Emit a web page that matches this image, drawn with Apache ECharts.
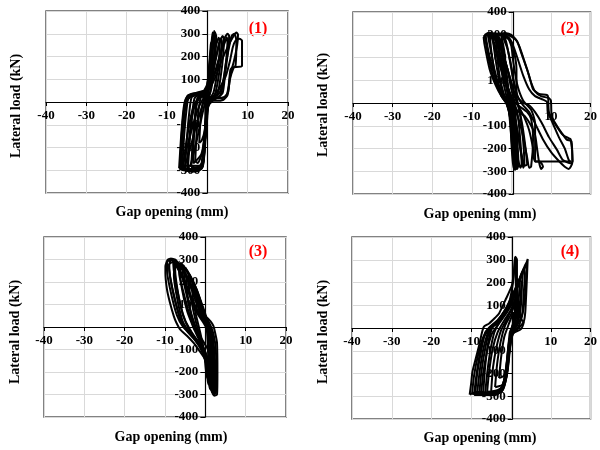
<!DOCTYPE html>
<html>
<head>
<meta charset="utf-8">
<script src="https://cdn.jsdelivr.net/npm/echarts@6/dist/echarts.min.js"></script>
<style>
  html, body { margin: 0; padding: 0; background: #fff; }
  #chart { width: 600px; height: 450px; }
</style>
</head>
<body>
<div id="chart"></div>
<script>
// Axis ranges and ticks shared by the four panels
const xTicks = [-40, -30, -20, -10, 0, 10, 20];
const yTicks = [-400, -300, -200, -100, 0, 100, 200, 300, 400];
const panelTags = ['(1)', '(2)', '(3)', '(4)'];
const xTitle = 'Gap opening (mm)';
const yTitle = 'Lateral load (kN)';

// Hysteresis loops, [gap opening (mm), lateral load (kN)]
const gap1Loops = [
  [[-2,-180],[-1.7,-80],[-1.2,-10],[-0.5,30],[0,70],[0.4,150],[0.8,240],[0.9,262],[1.0,230],[0.6,130],[0.2,40],[-0.2,-40],[-0.6,-120],[-1.4,-170],[-2,-180]],
  [[-3,-260],[-2.7,-150],[-2.2,-40],[-1.6,20],[-0.6,40],[0,75],[0.5,160],[1,250],[1.3,305],[1.5,292],[1.3,200],[0.8,110],[0.3,40],[-0.2,-20],[-0.5,-120],[-1.2,-220],[-2.4,-268],[-3,-260]],
  [[-4,-285],[-3.6,-170],[-3,-50],[-2.4,20],[-1.2,40],[0,80],[0.7,180],[1.3,270],[1.7,312],[1.9,300],[1.7,210],[1.2,120],[0.8,50],[0.2,0],[-0.2,-40],[-0.6,-170],[-1.3,-270],[-3,-292],[-4,-285]],
  [[-4.8,-292],[-4.4,-180],[-3.8,-60],[-3.2,15],[-2,35],[-0.5,50],[0.5,90],[1.3,170],[2.2,250],[2.8,282],[3.1,268],[2.9,190],[2.3,110],[1.5,40],[0.5,10],[0,-20],[-0.5,-150],[-1.2,-260],[-2,-295],[-4,-300],[-4.8,-292]],
  [[-5.5,-290],[-5.1,-170],[-4.5,-50],[-3.9,20],[-2.5,35],[-1,45],[0,60],[1,100],[2,180],[3,260],[3.8,290],[4.1,278],[3.9,200],[3.3,110],[2.6,40],[1.5,15],[0.5,0],[0,-30],[-0.6,-170],[-1.5,-282],[-2.5,-302],[-4.5,-300],[-5.5,-290]],
  [[-6.2,-290],[-5.8,-160],[-5.2,-40],[-4.6,25],[-3,38],[-1,40],[0,50],[1.5,110],[3,200],[4.3,282],[5,300],[5.4,290],[5.1,220],[4.4,120],[3.8,40],[2.5,20],[1,10],[0.3,-10],[-0.3,-80],[-1,-220],[-1.8,-292],[-3,-305],[-5.5,-300],[-6.2,-290]],
  [[-6.8,-290],[-6.3,-130],[-5.7,-20],[-5,25],[-4,35],[-2,42],[-0.5,50],[0.5,60],[2,110],[3.5,180],[5,240],[6.5,290],[7.2,305],[7.6,296],[7.4,250],[6.6,180],[5.7,120],[5.1,40],[4,20],[2,15],[0.5,-10],[-0.3,-60],[-0.8,-200],[-1.5,-290],[-3,-300],[-6,-300],[-6.8,-290]],
  [[-6.5,-285],[-6.1,-140],[-5.5,-10],[-4.8,28],[-3,38],[-1,48],[0,30],[1,20],[3,18],[4.5,22],[5.2,60],[5.7,140],[6.2,152],[8.6,158],[8.6,270],[8,278],[7,270],[6.3,240],[5.6,180],[4.5,110],[3,60],[1.5,25],[0.5,0],[-0.2,-50],[-0.6,-180],[-1.2,-280],[-2.5,-300],[-5.5,-295],[-6.5,-285]],
  [[-7,-292],[-6.5,-150],[-5.9,-30],[-5.3,15],[-4,30],[-2,35],[0,10],[2,5],[4,10],[5,30],[5.6,100],[6.5,150],[7,160],[7.2,270],[6.7,300],[6,290],[5.5,250],[4.6,170],[4,100],[3,40],[1,10],[0,-10],[-0.5,-100],[-1,-250],[-2,-300],[-4,-305],[-7,-292]],
  [[-5.8,-295],[-4.5,-220],[-3,-120],[-1.5,-30],[-0.5,20],[0,40],[0.3,10],[-0.2,-60],[-0.7,-200],[-1.2,-285],[-3,-300],[-5.8,-295]],
  [[-6.5,-290],[-5.5,-230],[-4,-130],[-2.5,-40],[-1,15],[0,30],[0.2,0],[-0.3,-100],[-0.9,-250],[-1.5,-295],[-4,-300],[-6.5,-290]],
  [[-4.2,-280],[-3,-200],[-1.8,-100],[-0.8,-20],[0,20],[0.1,-30],[-0.4,-150],[-1,-260],[-2.5,-290],[-4.2,-280]],
  [[-3.5,-270],[-3.3,-150],[-2.8,-30],[-2,20],[-0.5,30],[-0.1,-20],[-0.5,-130],[-1.5,-230],[-3.5,-270]],
  [[-5,-300],[-4.7,-200],[-4,-90],[-3,-10],[-1.5,25],[-0.3,35],[0,0],[-0.4,-110],[-0.9,-240],[-1.8,-298],[-5,-300]],
  [[-6,-295],[-5.4,-200],[-4.6,-110],[-3.6,-30],[-2.2,20],[-0.8,35],[-0.2,-30],[-0.6,-170],[-1.3,-290],[-6,-295]],
  [[-6.7,-280],[-6.4,-200],[-6,-100],[-5.2,0],[-4,25],[-2,30],[-0.5,20],[-0.5,-80],[-1,-200],[-1.6,-280],[-6.7,-280]],
  [[-2,30],[0,60],[0.8,150],[1.4,250],[1.9,305],[2.2,290],[2,220],[1.6,140],[1,60],[0,20],[-2,30]],
  [[-1,35],[0.5,80],[1.8,170],[2.8,250],[3.4,280],[3.6,265],[3.3,180],[2.6,90],[1.8,30],[0.5,15],[-1,35]],
  [[-3,35],[0,55],[2,130],[3.5,220],[4.5,270],[4.8,285],[5,270],[4.7,190],[4,90],[3.2,30],[1.5,10],[-3,35]]
];

const gap2Loops = [
  [[-2.5,295],[-2.2,220],[-1.5,100],[-0.8,20],[-0.3,-60],[0,-170],[0.5,-285],[0.8,-270],[0.6,-160],[0.2,-60],[-0.4,10],[-1,100],[-1.8,230],[-2.5,295]],
  [[-4,300],[-3.6,210],[-2.8,100],[-1.6,20],[-0.6,-40],[0,-150],[0.5,-250],[0.9,-295],[1.2,-280],[1,-170],[0.5,-60],[-0.2,10],[-1,80],[-2,180],[-3,280],[-4,300]],
  [[-5.5,305],[-5,220],[-4,110],[-2.5,30],[-1,-10],[0,-100],[0.7,-220],[1.5,-290],[1.8,-270],[1.5,-160],[1,-50],[0.2,20],[-0.8,60],[-2,130],[-3.5,250],[-4.8,305],[-5.5,305]],
  [[-6.6,300],[-6,220],[-4.8,130],[-3.5,70],[-2,20],[-1,0],[0,-60],[1,-160],[1.6,-240],[2.3,-285],[2.6,-270],[2.2,-150],[1.5,-40],[0.5,10],[-0.5,50],[-1.8,120],[-3,220],[-4,290],[-5.5,310],[-6.6,300]],
  [[-7,290],[-6.8,260],[-5.5,150],[-4,80],[-2.5,30],[-1,-5],[0.5,-40],[1.5,-120],[2.5,-220],[3.5,-275],[4,-270],[3.6,-200],[2.8,-100],[2,-30],[1.3,20],[1.3,150],[0.5,240],[-0.5,285],[-2,300],[-4,305],[-6,305],[-7,290]],
  [[-6.5,295],[-5.5,200],[-4,110],[-2.5,40],[-1,0],[0.5,-20],[2,-40],[3.5,-60],[5,-100],[6,-140],[6.5,-200],[7,-260],[7.5,-290],[8,-280],[7.2,-257],[6,-257],[6,-88],[5,-30],[3,10],[1.5,80],[0.5,180],[0,250],[-1,290],[-3,300],[-5,305],[-6.5,295]],
  [[-2,310],[0,300],[1.5,270],[2.5,220],[4,146],[5,90],[6,51],[7.5,30],[9.4,22],[10,10],[10.2,-59],[11.5,-100],[12.7,-131],[14,-161],[15.2,-168],[15.4,-263],[14.5,-290],[13.5,-280],[12,-255],[10,-215],[8,-160],[6,-90],[4.5,-40],[3,-10],[1.8,20],[0.8,80],[0,160],[-1,240],[-2,290],[-2,310]],
  [[-3,305],[-1,300],[1,280],[2,250],[3,200],[4.5,120],[5.5,60],[7,40],[9,35],[9.3,25],[9.5,-40],[11,-90],[13,-140],[14.5,-155],[15,-160],[15.5,-255],[15,-265],[13,-250],[11.5,-205],[9.5,-150],[7.7,-88],[6,-40],[4.5,-10],[3,0],[1.5,30],[0.5,100],[-0.5,200],[-1.5,280],[-3,305]],
  [[-4,300],[-2,295],[0,270],[1.5,200],[3,120],[4.5,60],[6,30],[8,15],[9,5],[9.2,-40],[10.5,-90],[12,-150],[13.5,-200],[14.5,-250],[15,-257],[6,-257],[5.5,-200],[4.5,-120],[3.2,-60],[2,-20],[1,20],[0,90],[-1.5,180],[-3,260],[-4,300]],
  [[-5,300],[-3,250],[-1,150],[0,60],[1,0],[2.5,-20],[4,-40],[5,-70],[5.5,-150],[5,-280],[4.5,-285],[4,-240],[3,-150],[2,-80],[1,-30],[0,20],[-1.5,100],[-3.5,220],[-5,300]],
  [[-6,305],[-5.3,240],[-4.3,150],[-3,70],[-1.5,10],[-0.3,-50],[0.4,-150],[1,-260],[1.3,-290],[1.5,-260],[1.2,-140],[0.6,-30],[-0.5,30],[-2,110],[-3.5,200],[-5,290],[-6,305]],
  [[-4.8,300],[-4.3,230],[-3.3,120],[-2,40],[-0.8,-20],[0.2,-110],[0.8,-230],[1.2,-280],[1.4,-250],[1,-120],[0.3,-20],[-0.7,40],[-2,150],[-3.5,260],[-4.8,300]],
  [[-3.3,295],[-2.8,200],[-2,90],[-1,10],[-0.2,-80],[0.4,-200],[0.7,-280],[1,-260],[0.7,-140],[0,-30],[-0.8,60],[-1.8,180],[-2.6,270],[-3.3,295]],
  [[-6.8,300],[-6.2,250],[-5,170],[-3.5,90],[-2,40],[-0.5,0],[0.8,-60],[1.8,-150],[2.6,-240],[3,-285],[3.3,-270],[3,-170],[2.3,-60],[1.5,10],[0.5,60],[-1,150],[-2.5,240],[-4,290],[-6.8,300]]
];

const gap3Loops = [
  [[-8.5,305],[-7.5,300],[-6.5,270],[-5,240],[-3.5,190],[-2.1,136],[-1,80],[-0.4,55],[0.5,40],[1.3,25],[2,5],[2.6,-40],[2.9,-71],[3,-200],[2.9,-300],[2.2,-305],[1.7,-290],[1,-240],[0.6,-180],[0,-145],[-1.5,-105],[-2.9,-71],[-4.5,-40],[-6.2,-12],[-7.2,20],[-7.8,47],[-8.8,110],[-9.5,166],[-9.9,240],[-9.9,270],[-9.3,300],[-8.5,305]],
  [[-8,300],[-6.5,280],[-5,230],[-3.5,170],[-2.3,110],[-1.2,60],[0,25],[1,0],[1.8,-40],[2.4,-150],[2.6,-290],[2,-295],[1.2,-250],[0.3,-170],[-0.8,-110],[-2.5,-60],[-4.5,-20],[-6,20],[-7,80],[-8.3,180],[-9,260],[-8.7,295],[-8,300]],
  [[-7,290],[-5.5,260],[-4,200],[-2.5,140],[-1.2,70],[0,20],[1,-20],[1.7,-80],[2.2,-200],[2.3,-285],[1.8,-290],[1,-220],[0,-140],[-1.5,-80],[-3.5,-20],[-5,30],[-6.2,100],[-7.2,200],[-7.5,260],[-7,290]],
  [[-6,285],[-5,260],[-3.5,210],[-2,150],[-0.8,90],[0.3,30],[1.2,-20],[1.6,-100],[1.9,-280],[1.5,-285],[0.8,-200],[0,-130],[-1.5,-60],[-3,0],[-4.5,70],[-5.8,170],[-6.3,250],[-6,285]],
  [[-5,265],[-3.5,220],[-2,160],[-0.8,100],[0.3,40],[1,-20],[1.3,-120],[1.5,-270],[1.1,-275],[0.5,-180],[-0.5,-100],[-2,-20],[-3.5,60],[-4.5,150],[-5.2,230],[-5,265]],
  [[-4,235],[-2.8,190],[-1.5,130],[-0.4,70],[0.5,10],[0.9,-80],[1.1,-250],[0.7,-255],[0.1,-140],[-1,-60],[-2.3,20],[-3.5,120],[-4.2,200],[-4,235]],
  [[-3,200],[-2,160],[-0.8,90],[0.2,20],[0.6,-80],[0.8,-220],[0.4,-225],[-0.3,-110],[-1.2,-30],[-2.4,60],[-3.2,150],[-3,200]],
  [[-9.5,290],[-8.5,300],[-7.5,280],[-6,230],[-4,150],[-2.5,90],[-1,40],[0.5,0],[1.5,-60],[2,-150],[2.4,-270],[2,-280],[1.5,-200],[0.5,-140],[-1,-90],[-3,-40],[-5.5,0],[-7,50],[-8.5,150],[-9.5,250],[-9.5,290]],
  [[-8,295],[-6.5,260],[-5,200],[-3.5,120],[-2,60],[-0.5,20],[1,-30],[1.8,-120],[2.1,-250],[1.7,-255],[1,-180],[0,-120],[-2,-60],[-4,-10],[-5.5,50],[-6.8,150],[-7.8,250],[-8,295]],
  [[-6.5,280],[-4.5,250],[-3,190],[-1.5,110],[0,50],[1.2,10],[2,-30],[2.6,-100],[2.8,-280],[2.3,-290],[1.9,-200],[1.2,-120],[0,-80],[-2,-20],[-4,60],[-5.5,160],[-6.5,240],[-6.5,280]],
  [[-9,280],[-8,290],[-6.8,260],[-5,200],[-3.2,120],[-1.5,60],[0,15],[1.3,-40],[1.9,-130],[2.2,-280],[1.8,-285],[1.2,-190],[0.2,-120],[-1.5,-70],[-4,-25],[-6,30],[-7.5,120],[-8.7,220],[-9,280]],
  [[-7.5,300],[-6,270],[-4.5,220],[-3,160],[-1.6,100],[-0.3,45],[1,-10],[1.7,-60],[2.2,-160],[2.5,-295],[2,-300],[1.5,-220],[0.5,-150],[-1,-95],[-3.5,-35],[-5.5,20],[-6.8,110],[-7.8,230],[-7.5,300]],
  [[-5.5,275],[-4,230],[-2.5,170],[-1,100],[0.3,35],[1.3,-20],[1.9,-100],[2.1,-290],[1.6,-290],[1,-190],[0,-110],[-1.8,-40],[-3.3,40],[-4.6,140],[-5.6,230],[-5.5,275]]
];

const gap4Loops = [
  [[-10.4,-293],[-10,-240],[-9.7,-192],[-8.8,-130],[-8,-75],[-7.3,-20],[-6.8,6],[-5.5,20],[-4,45],[-3,64],[-1.4,123],[0.25,189],[0.8,260],[1.1,313],[1.5,300],[1.5,220],[1.8,120],[2.5,40],[3.2,25],[2.5,-5],[0.5,-25],[-0.2,-75],[-1,-192],[-1.8,-250],[-3,-280],[-5,-290],[-7,-285],[-8.5,-280],[-10.4,-293]],
  [[-9,-290],[-8.5,-200],[-7.5,-100],[-6.5,-20],[-5,10],[-3,40],[-1,90],[1,150],[2.5,220],[3.6,270],[4.2,303],[4.1,260],[4,218],[3.6,72],[3.2,28],[1.9,-1],[0.2,-31],[-0.3,-100],[-0.8,-180],[-1.5,-240],[-2.5,-280],[-4,-292],[-6,-285],[-7.5,-290],[-9,-290]],
  [[-8,-295],[-7.5,-200],[-6.5,-90],[-5.5,-20],[-4,20],[-2,60],[0,120],[1.5,180],[2.5,230],[3,250],[2.8,200],[2.5,100],[1.8,30],[0.5,-10],[-0.5,-60],[-1.2,-170],[-2,-250],[-3.5,-290],[-5.5,-280],[-8,-295]],
  [[-6.5,-290],[-6,-200],[-5.2,-100],[-4.2,-20],[-2.8,30],[-1,80],[0.5,130],[1.8,190],[2.2,200],[2,140],[1.3,50],[0.3,0],[-0.6,-80],[-1.3,-190],[-2.5,-270],[-4.5,-285],[-6.5,-290]],
  [[-5,-280],[-4.5,-170],[-3.6,-80],[-2.5,-10],[-1,40],[0.5,100],[1.5,150],[1.4,90],[0.8,20],[-0.2,-40],[-0.8,-150],[-1.6,-240],[-3,-270],[-5,-280]],
  [[-4,-260],[-3.5,-160],[-2.6,-60],[-1.5,10],[0,60],[1,110],[1,60],[0.3,0],[-0.5,-90],[-1.2,-200],[-2.2,-250],[-4,-260]],
  [[-3,-220],[-2.5,-130],[-1.7,-40],[-0.5,20],[0.6,70],[0.5,20],[-0.2,-50],[-0.8,-150],[-1.8,-210],[-3,-220]],
  [[-7,-290],[-6.5,-170],[-5.7,-60],[-4.5,10],[-2.5,50],[-0.5,110],[0.5,200],[0.9,280],[1,310],[1.3,300],[1.2,200],[1.5,110],[1.8,40],[0.8,0],[-0.2,-60],[-0.9,-190],[-2,-270],[-4,-295],[-7,-290]],
  [[-9.8,-290],[-9.3,-210],[-8.3,-120],[-7,-40],[-5.5,0],[-3.5,30],[-1.5,80],[0.5,150],[2,210],[3.2,260],[3.5,240],[3.2,150],[2.8,60],[1.5,10],[0,-30],[-0.6,-120],[-1.3,-220],[-2.5,-275],[-5,-290],[-7.5,-280],[-9.8,-290]],
  [[-8.5,-285],[-7.8,-180],[-6.8,-80],[-5.5,-10],[-3.5,20],[-1.5,60],[0,100],[1.2,160],[1.2,100],[0.8,30],[-0.3,-20],[-0.9,-130],[-1.7,-230],[-3,-285],[-6,-290],[-8.5,-285]],
  [[-9.3,-295],[-8.8,-220],[-7.8,-110],[-6.8,-40],[-5,5],[-3,40],[-1,90],[0.8,160],[2.5,230],[3.8,285],[3.9,260],[3.6,160],[3,70],[2,10],[0.5,-25],[-0.4,-100],[-1.1,-210],[-2.2,-275],[-4.5,-295],[-9.3,-295]],
  [[-7.5,-285],[-7,-200],[-6,-100],[-4.8,-25],[-3,20],[-1,70],[0.8,140],[2.3,210],[2.6,200],[2.3,120],[1.6,40],[0.3,-10],[-0.5,-80],[-1.1,-180],[-2,-260],[-4,-285],[-7.5,-285]],
  [[-6,-280],[-5.5,-190],[-4.6,-90],[-3.4,-20],[-1.8,30],[0,80],[1.6,150],[1.7,110],[1.1,30],[0,-20],[-0.7,-110],[-1.4,-220],[-2.6,-275],[-6,-280]]
];

const panelLoops = [gap1Loops, gap2Loops, gap3Loops, gap4Loops];

// Plot rectangles (px) of the 2x2 layout
const grids = [
  { left: 46, top: 11, width: 242, height: 182 },
  { left: 353, top: 12, width: 241, height: 182 },
  { left: 44, top: 237, width: 242, height: 180 },
  { left: 352, top: 237, width: 241, height: 182 }
];

const serif = '"Liberation Serif", "Times New Roman", serif';
const tickFont = { fontFamily: serif, fontWeight: 'bold', fontSize: 13, color: '#000' };
const xMin = xTicks[0], xMax = xTicks[xTicks.length - 1];
const yMin = yTicks[0], yMax = yTicks[yTicks.length - 1];

// The axes cross at the origin: shift each axis from the grid edge to zero
const xAxes = grids.map((g, i) => ({
  type: 'value', gridIndex: i, position: 'bottom',
  offset: -g.height * (0 - yMin) / (yMax - yMin),
  min: xMin, max: xMax, interval: 10,
  axisLine: { onZero: false, lineStyle: { color: '#000', width: 1.2 } },
  axisTick: { show: true, length: 4, lineStyle: { color: '#000' } },
  axisLabel: Object.assign({ margin: 7, formatter: v => (v === 0 ? '' : String(v)) }, tickFont),
  splitLine: { show: true, lineStyle: { color: '#d9d9d9', width: 1 } }
}));

const yAxes = grids.map((g, i) => ({
  type: 'value', gridIndex: i, position: 'left',
  offset: -g.width * (0 - xMin) / (xMax - xMin),
  min: yMin, max: yMax, interval: 100,
  axisLine: { onZero: false, lineStyle: { color: '#000', width: 1.2 } },
  axisTick: { show: true, length: 5, lineStyle: { color: '#000' } },
  axisLabel: Object.assign({ margin: 7, formatter: v => (v === 0 ? '' : String(v)) }, tickFont),
  splitLine: { show: true, lineStyle: { color: '#d9d9d9', width: 1 } }
}));

// Loops sit on their own layer so they cover the tick labels they cross
const series = [];
panelLoops.forEach((loops, i) => {
  loops.forEach(loop => {
    series.push({
      type: 'line', xAxisIndex: i, yAxisIndex: i, zlevel: 1,
      data: loop, showSymbol: false, smooth: 0.2,
      lineStyle: { color: '#000', width: 2 },
      silent: true
    });
  });
});

// Axis titles and panel tags
const titleFont = 'bold 14px ' + serif;
const yTitlePos = [[16, 106], [323, 105], [15, 332], [323, 332]];
const xTitlePos = [[172, 212], [480, 214], [171, 437], [480, 438]];
const tagPos = [[258, 29], [570, 29], [258, 252], [570, 252]];
const graphic = [];
for (let i = 0; i < 4; i++) {
  graphic.push({
    type: 'text', x: yTitlePos[i][0], y: yTitlePos[i][1], rotation: Math.PI / 2,
    style: { text: yTitle, font: titleFont, fill: '#000', align: 'center', verticalAlign: 'middle' }
  });
  graphic.push({
    type: 'text', x: xTitlePos[i][0], y: xTitlePos[i][1],
    style: { text: xTitle, font: titleFont, fill: '#000', align: 'center', verticalAlign: 'middle' }
  });
  graphic.push({
    type: 'text', x: tagPos[i][0], y: tagPos[i][1],
    style: { text: panelTags[i], font: 'bold 16px ' + serif, fill: '#ff0000', align: 'center', verticalAlign: 'middle' }
  });
}

const chart = echarts.init(document.getElementById('chart'), null, { renderer: 'canvas' });
chart.setOption({
  animation: false,
  backgroundColor: '#fff',
  grid: grids.map(g => Object.assign({ show: true, borderColor: '#5a5a5a', borderWidth: 1.5, backgroundColor: 'transparent' }, g)),
  xAxis: xAxes,
  yAxis: yAxes,
  series: series,
  graphic: graphic
});
</script>
</body>
</html>
